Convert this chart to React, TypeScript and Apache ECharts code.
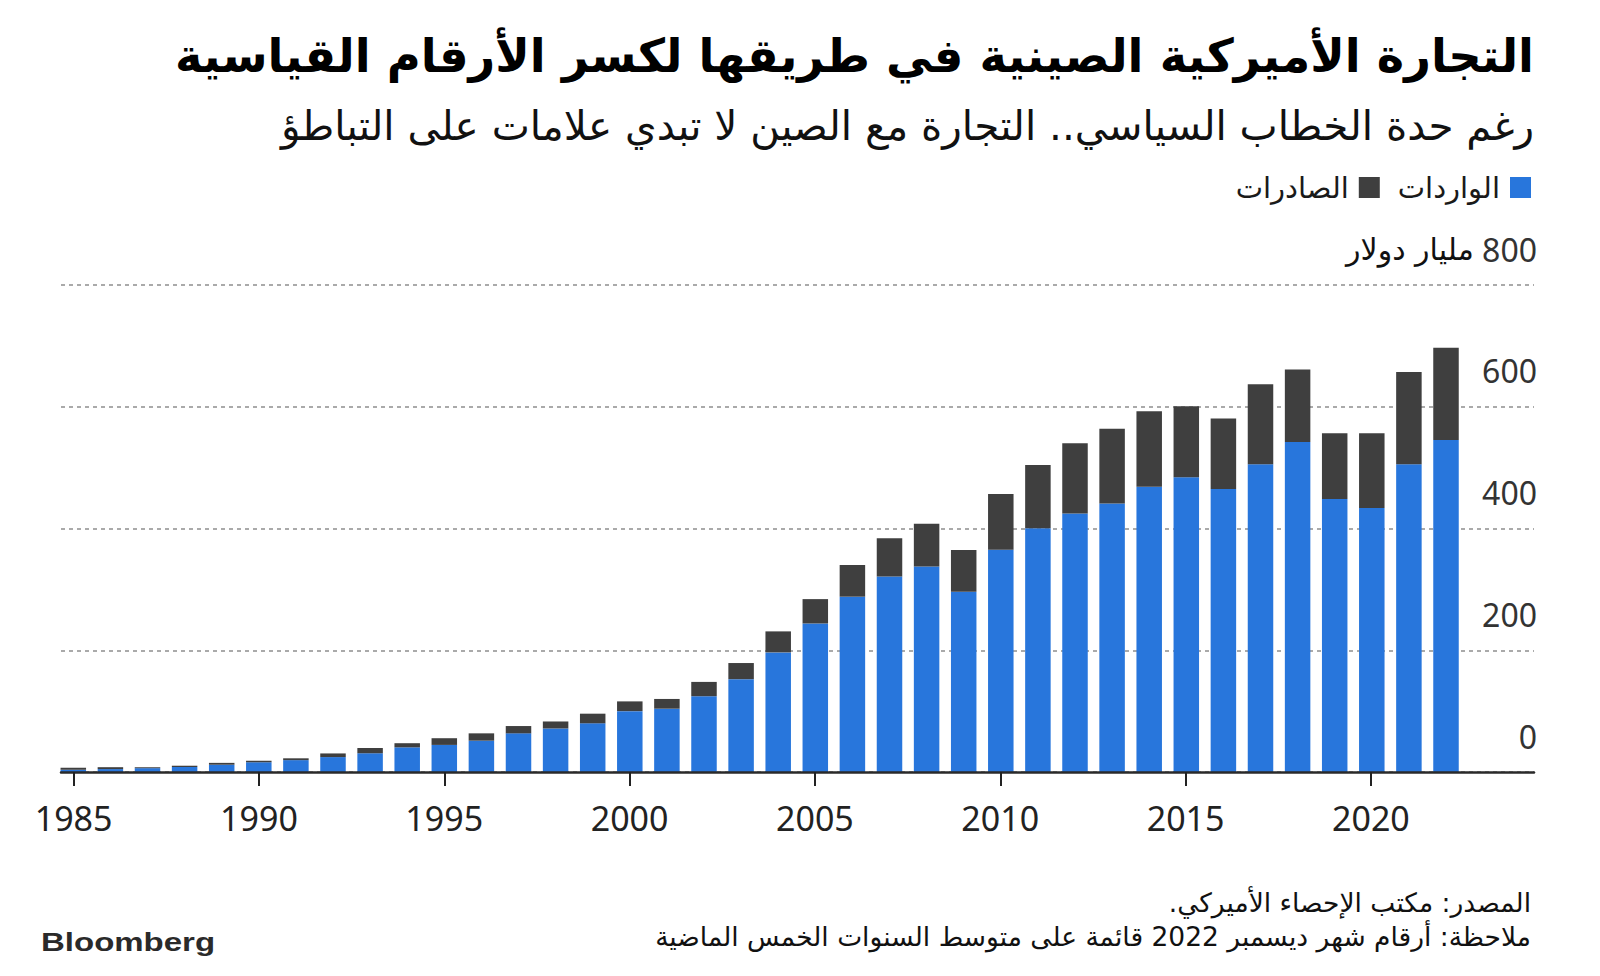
import React, { useEffect, useRef } from "react";
import * as echarts from "echarts";

const years: number[] = [
  1985, 1986, 1987, 1988, 1989, 1990, 1991, 1992, 1993, 1994, 1995, 1996, 1997,
  1998, 1999, 2000, 2001, 2002, 2003, 2004, 2005, 2006, 2007, 2008, 2009, 2010,
  2011, 2012, 2013, 2014, 2015, 2016, 2017, 2018, 2019, 2020, 2021, 2022,
];
// US imports from China (bn USD)
const imports: number[] = [
  3.9, 4.8, 6.3, 8.2, 12.0, 16.0, 19.5, 24.5, 30.8, 40.5, 44.5, 51.5, 63.5,
  71.5, 80.0, 100.0, 104.0, 124.5, 152.5, 196.5, 244.0, 288.0, 321.0, 337.5,
  296.0, 365.0, 400.5, 424.5, 441.0, 468.5, 484.0, 465.0, 505.5, 542.0, 448.5,
  433.5, 505.5, 545.5,
];
// US exports to China (bn USD)
const exportsData: number[] = [
  3.0, 3.1, 1.5, 2.1, 3.0, 2.6, 3.0, 6.0, 8.6, 6.8, 11.0, 12.0, 12.0, 11.5,
  15.8, 16.0, 16.0, 23.5, 26.5, 34.5, 40.0, 52.0, 63.0, 70.5, 68.5, 91.5,
  104.0, 115.5, 123.0, 124.0, 117.0, 115.5, 131.5, 119.0, 108.0, 123.0, 151.5,
  151.5,
];
const yearTicks: number[] = [1985, 1990, 1995, 2000, 2005, 2010, 2015, 2020];

const seriesNames = { imports: "الواردات", exports: "الصادرات" };
const unitLabel = "مليار دولار";
const titleText = "التجارة الأميركية الصينية في طريقها لكسر الأرقام القياسية";
const subtitleText =
  "رغم حدة الخطاب السياسي.. التجارة مع الصين لا تبدي علامات على التباطؤ";
const RLM = "\u200F";
const sourceText = "المصدر: مكتب الإحصاء الأميركي." + RLM;
const noteText =
  "ملاحظة: أرقام شهر ديسمبر 2022 قائمة على متوسط السنوات الخمس الماضية";

const BLUE = "#2876dc";
const DARK = "#3f3f3f";
const AR = '"DejaVu Sans", sans-serif';
const NUM = '"Noto Sans", "Open Sans", sans-serif';

export default function App() {
  const ref = useRef<HTMLDivElement>(null);

  useEffect(() => {
    if (!ref.current) return;
    const chart = echarts.init(ref.current, undefined, { renderer: "svg" });

    const top = 285;
    const bottom = 204;

    const option: any = {
      animation: false,
      backgroundColor: "#ffffff",
      grid: [
        // axis grid: axis line, year ticks/labels, y gridlines/labels
        { left: 61, right: 66, top, bottom, containLabel: false },
        // bar grid: 40 category bands (1985..2024) of ~37.1px
        { left: 54.75, right: 61.25, top, bottom, containLabel: false },
      ],
      legend: {
        data: [seriesNames.exports, seriesNames.imports],
        right: 64,
        top: 168,
        align: "right",
        icon: "rect",
        itemWidth: 21,
        itemHeight: 21,
        itemGap: 18,
        textStyle: {
          fontFamily: AR,
          fontSize: 29,
          color: "#1a1a1a",
          padding: [0, 5, 0, 0],
        },
      },
      xAxis: [
        {
          type: "value",
          gridIndex: 0,
          min: 1984.66,
          max: 2024.4,
          splitLine: { show: false },
          axisLine: { show: true, lineStyle: { color: "#2a2a2a", width: 2.5 } },
          axisTick: {
            show: true,
            customValues: yearTicks,
            length: 14,
            lineStyle: { color: "#222", width: 2 },
          },
          axisLabel: {
            customValues: yearTicks,
            fontFamily: NUM,
            fontSize: 34,
            color: "#222",
            margin: 29,
            formatter: (v: number) => String(v),
          },
          z: 5,
        },
        {
          type: "category",
          gridIndex: 1,
          data: years.map(String),
          max: 39,
          boundaryGap: true,
          show: false,
        },
      ],
      yAxis: [
        {
          type: "value",
          gridIndex: 0,
          position: "right",
          min: 0,
          max: 800,
          interval: 200,
          axisLine: { show: false },
          axisTick: { show: false },
          splitLine: {
            show: true,
            lineStyle: { color: "#aaaaaa", width: 2, type: [4, 4] },
          },
          axisLabel: {
            inside: true,
            margin: -3,
            verticalAlign: "bottom",
            padding: [0, 0, 20, 0],
            fontFamily: NUM,
            fontSize: 32,
            lineHeight: 32,
            color: "#333",
            formatter: (v: number) =>
              v === 800 ? `{u|${unitLabel}} {n|${v}}` : `{n|${v}}`,
            rich: {
              n: { fontFamily: NUM, fontSize: 32, color: "#333", lineHeight: 32 },
              u: { fontFamily: AR, fontSize: 30, color: "#111", lineHeight: 32 },
            },
          },
        },
        {
          type: "value",
          gridIndex: 1,
          min: 0,
          max: 800,
          show: false,
          splitLine: { show: false },
        },
      ],
      series: [
        {
          name: seriesNames.imports,
          type: "bar",
          xAxisIndex: 1,
          yAxisIndex: 1,
          stack: "trade",
          barWidth: 25.5,
          itemStyle: { color: BLUE },
          data: imports,
        },
        {
          name: seriesNames.exports,
          type: "bar",
          xAxisIndex: 1,
          yAxisIndex: 1,
          stack: "trade",
          barWidth: 25.5,
          itemStyle: { color: DARK },
          data: exportsData,
        },
      ],
      graphic: [
        {
          type: "text",
          x: 1534,
          y: 56,
          style: {
            text: titleText,
            align: "right",
            verticalAlign: "middle",
            font: `bold 46.4px ${AR}`,
            fill: "#000",
          },
        },
        {
          type: "text",
          x: 1534,
          y: 126,
          style: {
            text: subtitleText,
            align: "right",
            verticalAlign: "middle",
            font: `40.5px ${AR}`,
            fill: "#111",
          },
        },
        {
          type: "text",
          x: 1531,
          y: 902,
          style: {
            text: sourceText,
            align: "right",
            verticalAlign: "middle",
            font: `26.5px ${AR}`,
            fill: "#111",
          },
        },
        {
          type: "text",
          x: 1531,
          y: 936,
          style: {
            text: noteText,
            align: "right",
            verticalAlign: "middle",
            font: `26.5px ${AR}`,
            fill: "#111",
          },
        },
        {
          type: "text",
          x: 41,
          y: 942,
          scaleY: 0.78,
          style: {
            text: "Bloomberg",
            align: "left",
            verticalAlign: "middle",
            font: `900 33px "Liberation Sans", Arial, sans-serif`,
            fill: "#2a2a2a",
          },
        },
      ],
    };

    chart.setOption(option);
    return () => chart.dispose();
  }, []);

  return (
    <div
      ref={ref}
      style={{ position: "fixed", left: 0, top: 0, width: 1600, height: 976, background: "#fff" }}
    />
  );
}
